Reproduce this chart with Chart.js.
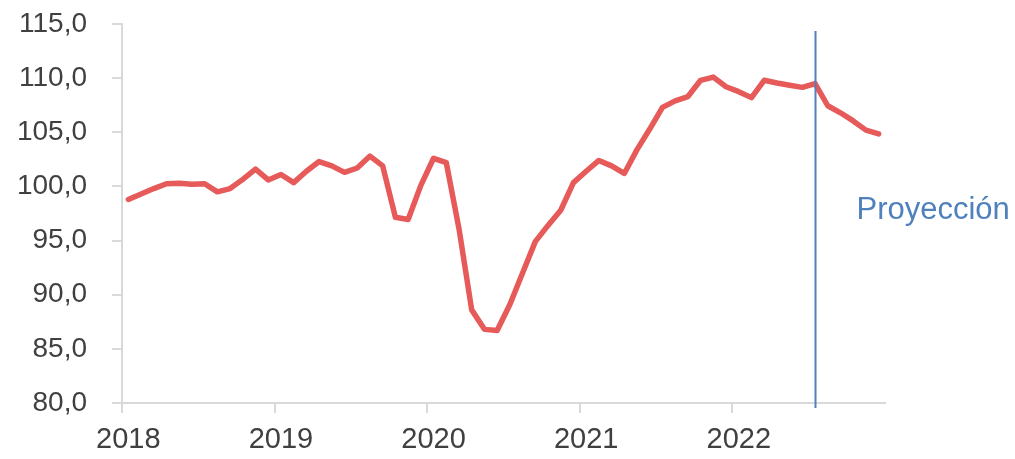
<!DOCTYPE html>
<html>
<head>
<meta charset="utf-8">
<script src="https://cdn.jsdelivr.net/npm/chart.js@4.4.1/dist/chart.umd.min.js"></script>
<style>
  html,body{margin:0;padding:0;background:#fff;}
  #wrap{width:1015px;height:459px;}
</style>
</head>
<body>
<div id="wrap"><canvas id="c" width="1015" height="459"></canvas></div>
<script>
const years=['2018','2019','2020','2021','2022'];
const months=[];
years.forEach(y=>{for(let m=1;m<=12;m++){months.push(y+'-'+(m<10?'0'+m:m));}});
const indexValues=[
  98.8,99.3,99.8,100.25,100.3,100.2,100.25,99.5,99.8,100.65,101.6,100.6,
  101.1,100.35,101.4,102.3,101.9,101.3,101.7,102.8,101.9,97.15,96.95,100.1,
  102.6,102.2,96.1,88.6,86.8,86.7,89.1,92.0,94.9,96.4,97.8,100.35,
  101.4,102.4,101.9,101.2,103.4,105.3,107.3,107.9,108.3,109.8,110.1,109.2,
  108.75,108.2,109.8,109.55,109.35,109.15,109.5,107.45,106.8,106.05,105.2,104.85
];
const yTicks=[80,85,90,95,100,105,110,115];
const projectionIndex=54;
const projectionLabel='Proyección';

const axisGray='#d9d9d9';
const textGray='#404040';

const projectionPlugin={
  id:'projection',
  afterDatasetsDraw(chart){
    const {ctx,chartArea,scales:{x,y}}=chart;
    const px=Math.round(x.getPixelForValue(projectionIndex))+0.5;
    ctx.save();
    ctx.strokeStyle='#4f81bd';
    ctx.lineWidth=2;
    ctx.beginPath();
    ctx.moveTo(px,chartArea.top+7);
    ctx.lineTo(px,chartArea.bottom+5);
    ctx.stroke();
    ctx.fillStyle='#4f81bd';
    ctx.font='31px "Liberation Sans", Arial, sans-serif';
    ctx.textAlign='left';
    ctx.textBaseline='alphabetic';
    ctx.fillText(projectionLabel,px+41,y.getPixelForValue(97));
    ctx.restore();
  }
};

new Chart(document.getElementById('c').getContext('2d'),{
  type:'line',
  data:{labels:months,datasets:[{
    data:indexValues,
    borderColor:'#e65a5a',
    borderWidth:5.5,
    pointRadius:0,
    tension:0,
    borderCapStyle:'round',
    borderJoinStyle:'round'
  }]},
  options:{
    responsive:false,
    animation:false,
    layout:{padding:{top:24,right:130,left:0,bottom:0}},
    plugins:{legend:{display:false},tooltip:{enabled:false}},
    scales:{
      x:{
        type:'category',
        offset:true,
        border:{color:axisGray,width:2},
        grid:{
          offset:true,
          drawOnChartArea:false,
          tickLength:10,
          lineWidth:2,
          color:c=>(c.index%12===0?axisGray:'rgba(0,0,0,0)')
        },
        ticks:{
          autoSkip:false,
          maxRotation:0,
          padding:10,
          color:textGray,
          font:{family:'"Liberation Sans", Arial, sans-serif',size:29},
          callback:function(v,i){return i%12===0?years[i/12]:'';}
        },
        afterFit(s){s.height=56;s.paddingLeft=0;s.paddingRight=0;}
      },
      y:{
        min:80,max:115,
        border:{color:axisGray,width:2},
        grid:{drawOnChartArea:false,tickLength:10,lineWidth:2,color:axisGray},
        afterBuildTicks(s){s.ticks=yTicks.map(v=>({value:v}));},
        ticks:{
          padding:25,
          color:textGray,
          font:{family:'"Liberation Sans", Arial, sans-serif',size:28},
          callback:v=>v.toFixed(1).replace('.',',')
        },
        afterFit(s){s.width=122;s.paddingTop=0;s.paddingBottom=0;}
      }
    }
  },
  plugins:[projectionPlugin]
});
</script>
</body>
</html>
